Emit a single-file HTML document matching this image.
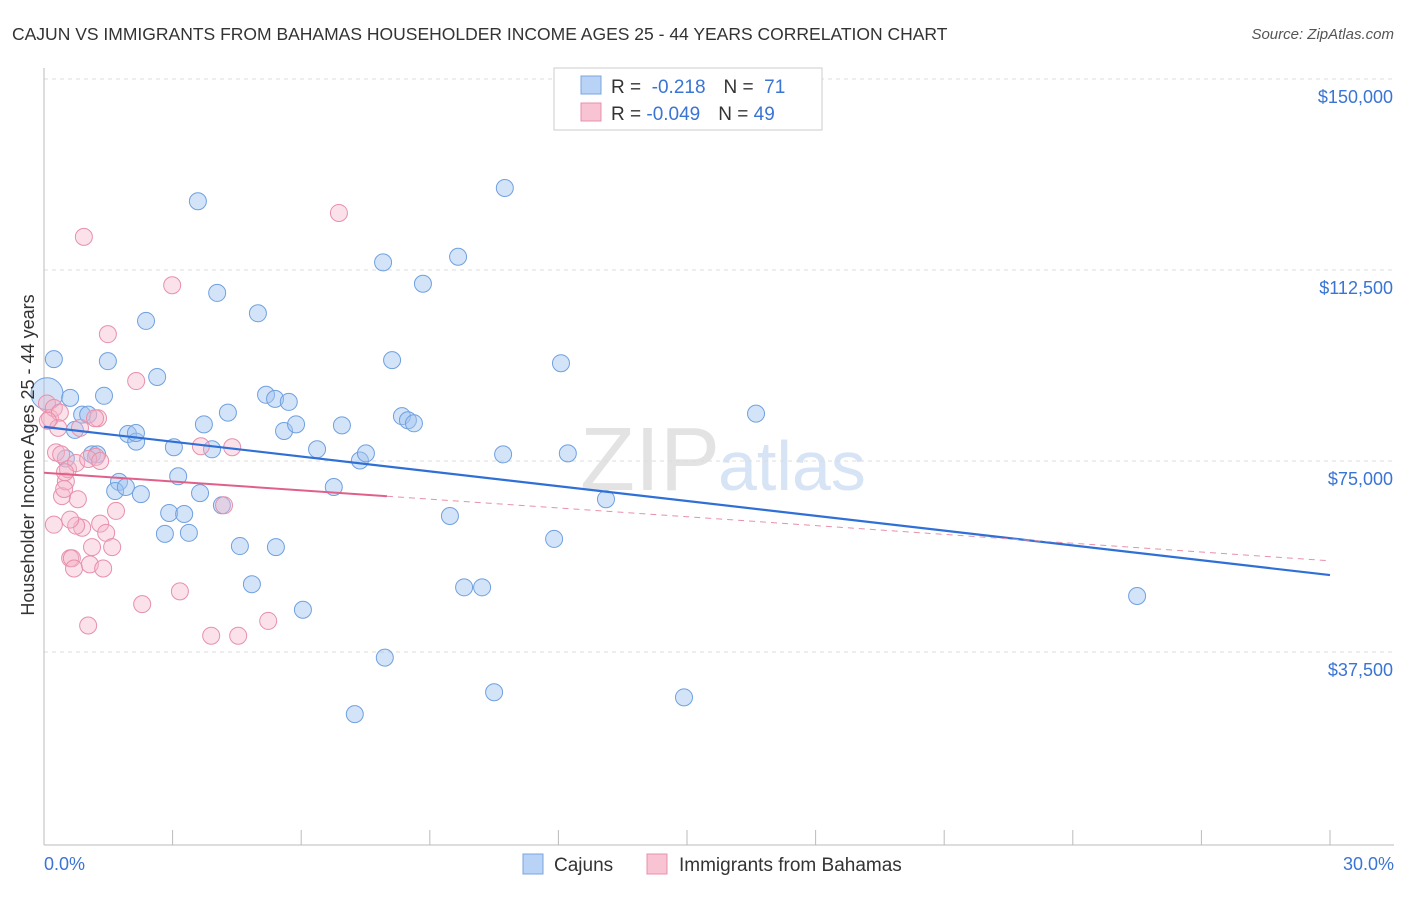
<!DOCTYPE html>
<html><head><meta charset="utf-8"><style>
body{margin:0;background:#fff;font-family:"Liberation Sans",sans-serif}
svg text{font-family:"Liberation Sans",sans-serif}
</style></head><body>
<svg id="c" width="1406" height="892">
<text x="12" y="40" font-size="17.5" fill="#333">CAJUN VS IMMIGRANTS FROM BAHAMAS HOUSEHOLDER INCOME AGES 25 - 44 YEARS CORRELATION CHART</text>
<text x="1394" y="39" font-size="15" fill="#555" font-style="italic" text-anchor="end">Source: ZipAtlas.com</text>
<text x="720" y="490" font-size="90" fill="#e3e3e3" text-anchor="end" font-family="Liberation Serif">ZIP</text>
<text x="718" y="490" font-size="70" fill="#d6e4f5">atlas</text>
<g id="grid"></g><g id="marks"></g>
<text transform="translate(34,455) rotate(-90)" font-size="18" fill="#333" text-anchor="middle">Householder Income Ages 25 - 44 years</text>
<g>
<rect x="554" y="68" width="268" height="62" fill="#fff" stroke="#ccc"/>
<rect x="581" y="76" width="20" height="18" fill="#b8d3f5" stroke="#7aa6e0"/>
<rect x="581" y="103" width="20" height="18" fill="#f8c4d4" stroke="#e890ab"/>
<text x="611" y="93" font-size="19" fill="#333">R = <tspan fill="#3a74d4">&#160;-0.218</tspan><tspan dx="18">N = </tspan><tspan fill="#3a74d4">&#160;71</tspan></text>
<text x="611" y="120" font-size="19" fill="#333">R = <tspan fill="#3a74d4">-0.049</tspan><tspan dx="18">N = </tspan><tspan fill="#3a74d4">49</tspan></text>
</g>
<rect x="523" y="854" width="20" height="20" fill="#b8d3f5" stroke="#7aa6e0"/>
<text x="554" y="871" font-size="19" fill="#333">Cajuns</text>
<rect x="647" y="854" width="20" height="20" fill="#f8c4d4" stroke="#e890ab"/>
<text x="679" y="871" font-size="19" fill="#333">Immigrants from Bahamas</text>
</svg>
<script>
const yTicks=[37500,75000,112500,150000];
const yTickLabels=["$37,500","$75,000","$112,500","$150,000"];
const xTickLabels=["0.0%","30.0%"];
const cajunX=[0.07,0.23,0.61,0.89,1.03,0.72,0.51,1.12,1.24,1.4,1.49,1.75,1.66,1.91,1.96,2.15,2.145,2.26,2.38,2.64,2.82,2.92,3.13,3.27,3.38,3.03,3.59,3.64,3.73,3.92,4.04,4.15,4.29,4.57,4.85,4.99,5.18,5.39,5.6,5.71,5.41,5.88,6.04,6.37,6.76,6.95,7.25,7.37,7.51,7.91,7.95,8.12,8.35,8.49,8.63,8.84,9.47,9.66,9.8,10.22,10.5,10.71,10.75,11.9,12.06,12.22,13.11,14.93,16.61,25.5];
const cajunY=[88200,95000,87400,84100,84100,81100,75500,76300,76300,87800,94600,70900,69100,69900,80300,78800,80500,68500,102500,91500,60700,64800,72000,64600,60900,77700,126000,68700,82200,77300,108000,66300,84500,58300,50800,104000,88000,87200,80900,86600,58100,82200,45800,77300,69900,82000,25300,75100,76500,114000,36400,94800,83800,83000,82400,109800,64200,115100,50200,50200,29600,76300,128600,59700,94200,76500,67500,28600,84300,48500];
const bahX=[0.07,0.14,0.23,0.33,0.37,0.09,0.28,0.42,0.51,0.56,0.47,0.61,0.65,0.7,0.75,0.79,0.84,0.89,0.93,1.03,1.07,1.12,1.21,1.26,1.31,1.38,1.45,1.49,1.59,1.68,2.15,2.29,2.99,3.17,3.66,3.9,4.2,4.39,4.53,5.23,6.88,0.23,0.75,1.19,0.4,0.61,1.03,1.31,0.49];
const bahY=[86300,83400,85400,81500,84500,82900,76700,68100,71000,73400,69500,55900,55900,53900,74600,67500,81500,61900,119000,42700,54700,58100,75800,83400,62700,53900,60900,99900,58100,65200,90700,46900,109500,49400,77900,40700,66300,77700,40700,43600,123700,62500,62300,83400,76300,63500,75400,75000,72800];
const X0=44,X1=1330,PX=(X1-X0)/30,Y0=843,PY=191/37500;
const sx=v=>X0+v*PX, sy=v=>Y0-v*PY;
const ns="http://www.w3.org/2000/svg";
function mk(p,t,a){const e=document.createElementNS(ns,t);for(const k in a)e.setAttribute(k,a[k]);p.appendChild(e);return e;}
const g=document.getElementById('grid'),m=document.getElementById('marks');
yTicks.forEach((t,i)=>{
 const l=mk(g,'line',{x1:44,x2:1394,y1:sy(t),y2:sy(t),stroke:'#ddd','stroke-dasharray':'4,4'});
 
 
 const tx=mk(g,'text',{x:1393,y:sy(t)+24,'font-size':18,fill:'#3a74d4','text-anchor':'end'});tx.textContent=yTickLabels[i];
 
 
});
const ax=mk(g,'line',{x1:44,x2:1394,y1:845,y2:845,stroke:'#bbb'});


const ay=mk(g,'line',{x1:44,x2:44,y1:68,y2:845,stroke:'#bbb'});


for(let i=1;i<=10;i++){const t=mk(g,'line',{x1:sx(i*3),x2:sx(i*3),y1:830,y2:845,stroke:'#bbb'});
 
 }
[[0,'start',44],[30,'end',1394]].forEach((d,i)=>{const t=mk(g,'text',{x:d[2],y:870,'font-size':18,fill:'#3a74d4','text-anchor':d[1]});t.textContent=xTickLabels[i];
 
 });
cajunX.forEach((x,i)=>{const c=mk(m,'circle',{cx:sx(x),cy:sy(cajunY[i]),r:i==0?16:8.5,fill:'rgba(160,196,240,0.45)',stroke:'#6fa0e0','stroke-width':1});
 
 });
bahX.forEach((x,i)=>{const c=mk(m,'circle',{cx:sx(x),cy:sy(bahY[i]),r:8.5,fill:'rgba(246,180,200,0.4)',stroke:'#e890ab','stroke-width':1});
 
 });
const cajTrend=[81700,52600], bahTrend=[72700,55400];
const l1=mk(m,'line',{x1:sx(0),y1:sy(cajTrend[0]),x2:sx(30),y2:sy(cajTrend[1]),stroke:'#2f6fd6','stroke-width':2.2});


const bY=x=>bahTrend[0]+(bahTrend[1]-bahTrend[0])*x/30;
const l2=mk(m,'line',{x1:sx(0),y1:sy(bY(0)),x2:sx(8),y2:sy(bY(8)),stroke:'#e0608a','stroke-width':2});


const l3=mk(m,'line',{x1:sx(8),y1:sy(bY(8)),x2:sx(30),y2:sy(bY(30)),stroke:'#e890ab','stroke-width':1,'stroke-dasharray':'6,5'});


</script>
</body></html>
